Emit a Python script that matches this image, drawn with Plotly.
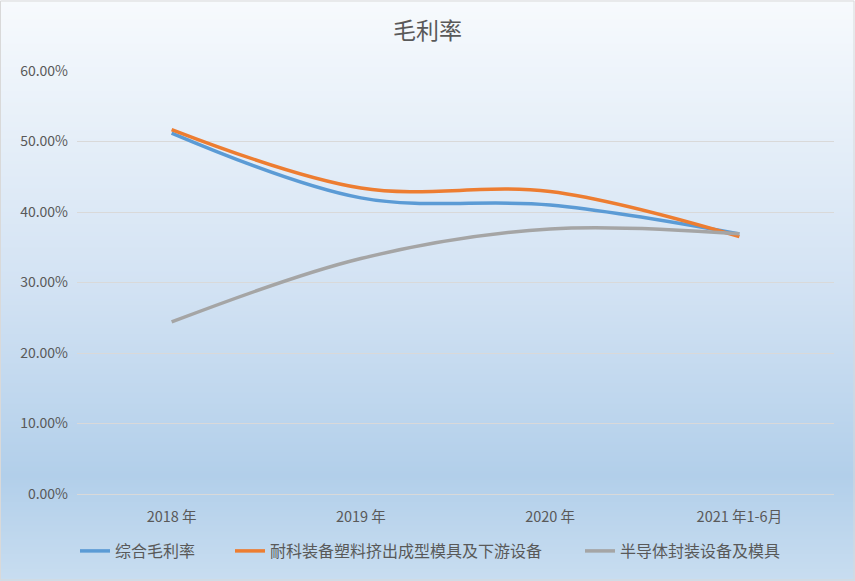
import plotly.graph_objects as go
import zlib, struct, base64

categories = ["2018 年", "2019 年", "2020 年", "2021 年1-6月"]
series_names = ["综合毛利率", "耐科装备塑料挤出成型模具及下游设备", "半导体封装设备及模具"]
blended = [0.512, 0.420, 0.410, 0.369]
plastic = [0.517, 0.434, 0.429, 0.365]
semicon = [0.244, 0.334, 0.376, 0.369]
y_ticks = [0, 0.1, 0.2, 0.3, 0.4, 0.5, 0.6]

colors = ["#5b9bd5", "#ed7d31", "#a5a5a5"]
W, H = 855, 581
ML, MR, MT, MB = 77, 21, 71, 87
PW, PH = W - ML - MR, H - MT - MB

# gradient background as PNG
stops = [(0.0, (247, 250, 253)), (0.5, (210, 226, 243)), (0.82, (178, 207, 234)), (1.0, (200, 221, 240))]
def col(t):
    for (t0, c0), (t1, c1) in zip(stops, stops[1:]):
        if t0 <= t <= t1:
            f = (t - t0) / (t1 - t0)
            return tuple(int(round(a + (b - a) * f)) for a, b in zip(c0, c1))
    return stops[-1][1]
pw = 4
raw = b""
for r in range(H):
    c = col(r / (H - 1))
    raw += b"\x00" + bytes(c) * pw
def chunk(t, d):
    return struct.pack(">I", len(d)) + t + d + struct.pack(">I", zlib.crc32(t + d) & 0xffffffff)
png = b"\x89PNG\r\n\x1a\n" + chunk(b"IHDR", struct.pack(">IIBBBBB", pw, H, 8, 2, 0, 0, 0)) + chunk(b"IDAT", zlib.compress(raw)) + chunk(b"IEND", b"")
uri = "data:image/png;base64," + base64.b64encode(png).decode()

legend_ids = ["legend", "legend2", "legend3"]
legend_text_x = [117, 272, 622]

fig = go.Figure()
for name, vals, c, lid in zip(series_names, [blended, plastic, semicon], colors, legend_ids):
    fig.add_trace(go.Scatter(x=categories, y=vals, name=name, mode="lines", legend=lid, showlegend=True,
                             line=dict(color=c, width=3.5, shape="spline", smoothing=1.0)))

font = "Noto Sans CJK SC"
legend_common = dict(orientation="h", xanchor="left", xref="container", y=(H - 551) / H, yref="container",
                     yanchor="middle", font=dict(size=16, color="#595959"), bgcolor="rgba(0,0,0,0)",
                     itemwidth=30)
layout_legends = {}
for lid, tx in zip(legend_ids, legend_text_x):
    layout_legends[lid] = dict(legend_common, x=(tx - 42) / W)

fig.update_layout(
    width=W, height=H, showlegend=True,
    margin=dict(l=ML, r=MR, t=MT, b=MB, autoexpand=False),
    paper_bgcolor="white", plot_bgcolor="rgba(0,0,0,0)",
    font=dict(family=font, color="#595959", size=14),
    title=dict(text="毛利率", x=0.5, xref="container", xanchor="center", y=1 - 31 / H, yanchor="middle",
               font=dict(size=23, color="#595959", family=font)),
    xaxis=dict(type="category", range=[-0.5, 3.5], showgrid=False, showline=False, zeroline=False,
               automargin=False, ticks="", tickfont=dict(size=14.5, color="#595959"), ticklabelstandoff=12),
    yaxis=dict(range=[0, 0.6], tickvals=y_ticks, tickformat=".2%", showgrid=True, gridcolor="#d9d9d9",
               automargin=False, gridwidth=1, zeroline=True, zerolinecolor="#d9d9d9", zerolinewidth=1,
               showline=False, ticks="", tickfont=dict(size=14, color="#595959"), ticklabelstandoff=8),
    images=[dict(source=uri, xref="paper", yref="paper", x=-ML / PW, y=1 + MT / PH,
                 sizex=W / PW, sizey=H / PH, xanchor="left", yanchor="top", sizing="stretch", layer="below")],
    shapes=[dict(type="rect", xref="paper", yref="paper", x0=-ML / PW + 0.5 / PW, x1=1 + (MR - 1) / PW,
                 y0=-MB / PH + 1 / PH, y1=1 + (MT - 1) / PH, line=dict(color="#d9d9d9", width=1), layer="above")],
    **layout_legends,
)
fig.write_html("out.html", config={"displayModeBar": False},
               post_script="document.body.style.margin='0';document.body.style.padding='0';")
